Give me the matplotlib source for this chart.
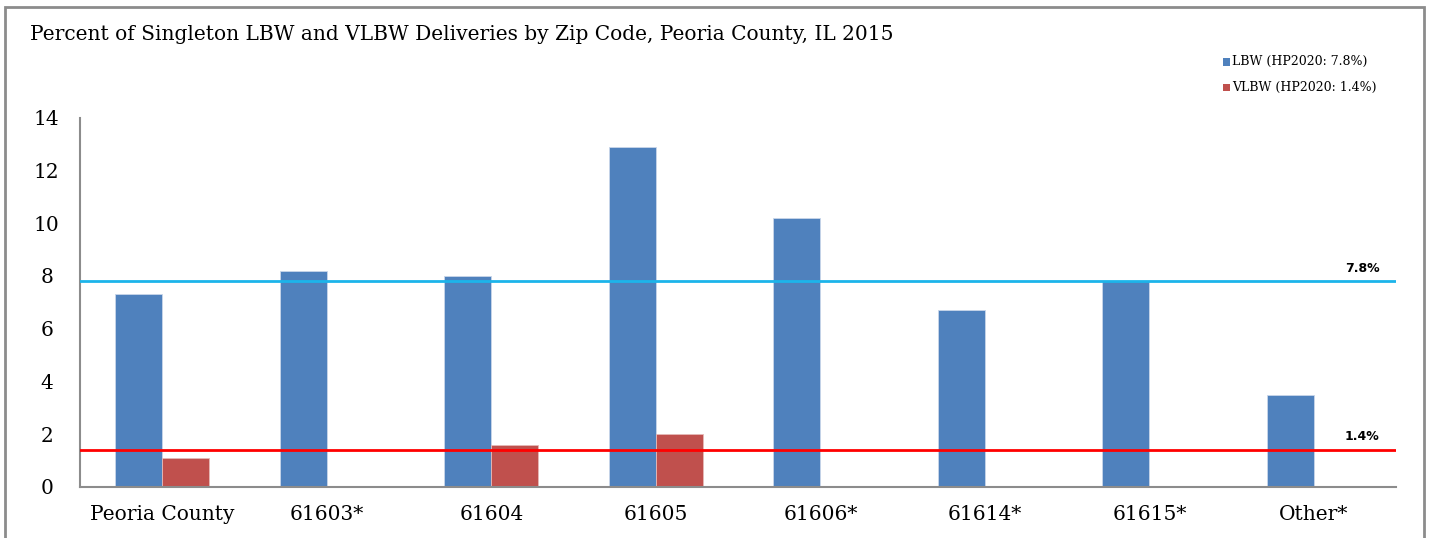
import matplotlib.pyplot as plt
import numpy as np
from matplotlib.patches import Rectangle

plt.rcParams["font.family"] = ["DejaVu Serif"]

zips = ["Peoria County", "61603*", "61604", "61605", "61606*", "61614*", "61615*", "Other*"]
lbw = [7.3, 8.2, 8.0, 12.9, 10.2, 6.7, 7.8, 3.5]
vlbw = [1.1, 0, 1.6, 2.0, 0, 0, 0, 0]
hp_lbw = 7.8
hp_vlbw = 1.4

blue = "#4F81BD"
red = "#C0504D"

fig = plt.figure(figsize=(14.29, 5.38), dpi=100)
ax = fig.add_axes([0.056, 0.095, 0.921, 0.686])

x = np.arange(len(zips))
w = 0.285
ax.bar(x - w / 2, lbw, w, color=blue, edgecolor="#c9d6ea", linewidth=0.6)
ax.bar(x + w / 2, vlbw, w, color=red, edgecolor="#e6b9b8", linewidth=0.6)

ax.axhline(hp_lbw, color="#1CB4EA", linewidth=2, zorder=3)
ax.axhline(hp_vlbw, color="#FF0000", linewidth=2, zorder=3)
ax.text(7.4, hp_lbw + 0.25, "7.8%", family="DejaVu Sans", fontweight="bold",
        fontsize=9, ha="right", va="bottom")
ax.text(7.4, hp_vlbw + 0.25, "1.4%", family="DejaVu Sans", fontweight="bold",
        fontsize=9, ha="right", va="bottom")

ax.set_xlim(-0.5, 7.5)
ax.set_ylim(0, 14)
ax.set_yticks(range(0, 15, 2))
ax.set_xticks(x)
ax.set_xticklabels(zips)
ax.tick_params(axis="both", length=0, labelsize=14.5)
ax.tick_params(axis="x", pad=13)
ax.tick_params(axis="y", pad=24)
for lbl in ax.get_yticklabels():
    lbl.set_horizontalalignment("center")
for s in ("top", "right"):
    ax.spines[s].set_visible(False)
for s in ("left", "bottom"):
    ax.spines[s].set_color("#8c8c8c")
    ax.spines[s].set_linewidth(1.5)

fig.text(0.021, 0.935, "Percent of Singleton LBW and VLBW Deliveries by Zip Code, Peoria County, IL 2015",
         fontsize=14.5, va="center")

# legend
fig.patches.append(Rectangle((0.8555, 0.878), 0.005, 0.0135, transform=fig.transFigure,
                             facecolor=blue, edgecolor="none"))
fig.patches.append(Rectangle((0.8555, 0.830), 0.005, 0.0135, transform=fig.transFigure,
                             facecolor=red, edgecolor="none"))
fig.text(0.862, 0.886, "LBW (HP2020: 7.8%)", fontsize=9, va="center")
fig.text(0.862, 0.838, "VLBW (HP2020: 1.4%)", fontsize=9, va="center")

# outer frame
fig.patches.append(Rectangle((0.0035, -0.05), 0.993, 1.037, transform=fig.transFigure,
                             fill=False, edgecolor="#8c8c8c", linewidth=2))

plt.savefig("out.png", dpi=100)
